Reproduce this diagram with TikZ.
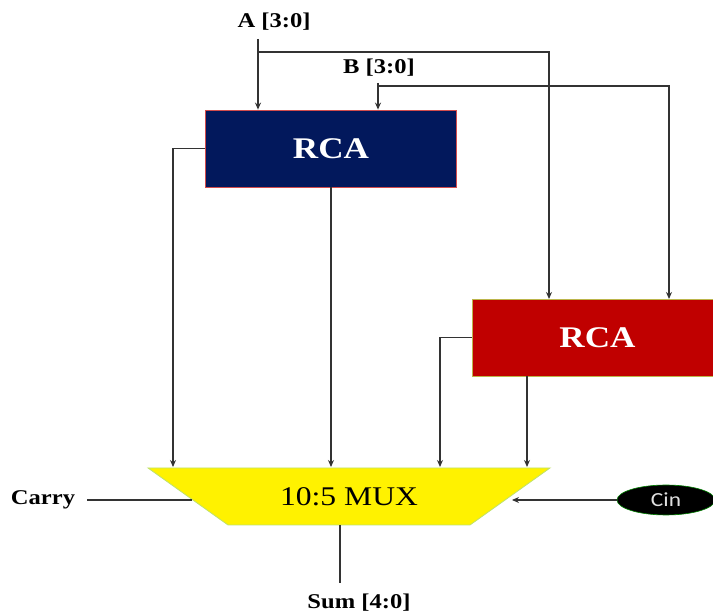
\documentclass[tikz,border=0pt]{standalone}
\usepackage{fontspec}
\usepackage{graphicx}
\setmainfont{Liberation Serif}
\newfontfamily\cinfont{Carlito}
\usetikzlibrary{arrows.meta,shapes.geometric}
\definecolor{navy}{RGB}{2,24,92}
\definecolor{rcared}{RGB}{192,0,0}
\definecolor{muxedge}{RGB}{190,225,110}
\newcommand\wide[1]{\scalebox{1.17}[1]{#1}}
\tikzset{
  wire/.style={draw=black!80, line width=1.3pt},
  arr/.style={wire, -{Stealth[length=7pt,width=6pt]}},
  lbl/.style={font=\fontsize{21}{25}\selectfont\bfseries, inner sep=0pt},
  rcabox/.style={minimum width=251pt, minimum height=77pt, inner sep=0pt, line width=0.8pt,
    text=white, font=\fontsize{30}{34}\selectfont\bfseries},
}
\begin{document}
\begin{tikzpicture}[x=1pt,y=-1pt]
\useasboundingbox (0,0) rectangle (713,612);
% boxes
\node[rcabox, fill=navy, draw=rcared!70] (rca1) at (331,148.5) {\wide{RCA}};
\node[rcabox, fill=rcared, draw=olive!60] (rca2) at (597.5,337.5) {\wide{RCA}};
% mux
\coordinate (muxTL) at (148,468);
\coordinate (muxTR) at (550,468);
\coordinate (muxBR) at (470,525);
\coordinate (muxBL) at (228,525);
\fill[yellow, draw=muxedge, line width=0.8pt] (muxTL) -- (muxTR) -- (muxBR) -- (muxBL) -- cycle;
\node[font=\fontsize{27}{30}\selectfont, inner sep=0pt] (mux) at (349,497) {\wide{10:5 MUX}};
% labels
\node[lbl] (A) at (274,22) {\wide{A [3:0]}};
\node[lbl] (B) at (379,68) {\wide{B [3:0]}};
\node[lbl] (carry) at (43,500) {\wide{Carry}};
\node[lbl] (sum) at (359,603) {\wide{Sum [4:0]}};
\node[ellipse, fill=black, draw=green!50!black, line width=0.6pt, minimum width=98pt, minimum height=30pt,
  inner sep=0pt, text=black!12, font=\fontsize{20}{22}\selectfont\cinfont] (cin) at (666,500) {\wide{Cin}};
% coordinates on wires
\coordinate (a0) at (258,39);
\coordinate (aj) at (258,52);
\coordinate (a2) at (549,299);
\coordinate (b0) at (378,83);
\coordinate (bj) at (378,86);
\coordinate (b2) at (669,299);
\coordinate (m1) at (173,467);
\coordinate (m2) at (331,467);
\coordinate (m3) at (440,467);
\coordinate (m4) at (527,467);
\coordinate (cl) at (192,500);
\coordinate (cr) at (512,500);
\coordinate (s0) at (340,525);
\coordinate (s1) at (340,583);
% inputs
\draw[arr] (a0) -- (a0 |- rca1.north);
\draw[arr] (aj) -| (a2);
\draw[arr] (b0) -- (b0 |- rca1.north);
\draw[arr] (bj) -| (b2);
% outputs to mux
\draw[arr] (rca1.west) -| (m1);
\draw[arr] (rca1.south) -- (m2);
\draw[arr] (rca2.west) -| (m3);
\draw[arr] (rca2.south -| m4) -- (m4);
% carry, cin, sum
\draw[wire] ([xshift=12pt]carry.east) -- (cl);
\draw[arr] (cin.west) -- (cr);
\draw[wire] (s0) -- (s1);
\end{tikzpicture}
\end{document}
